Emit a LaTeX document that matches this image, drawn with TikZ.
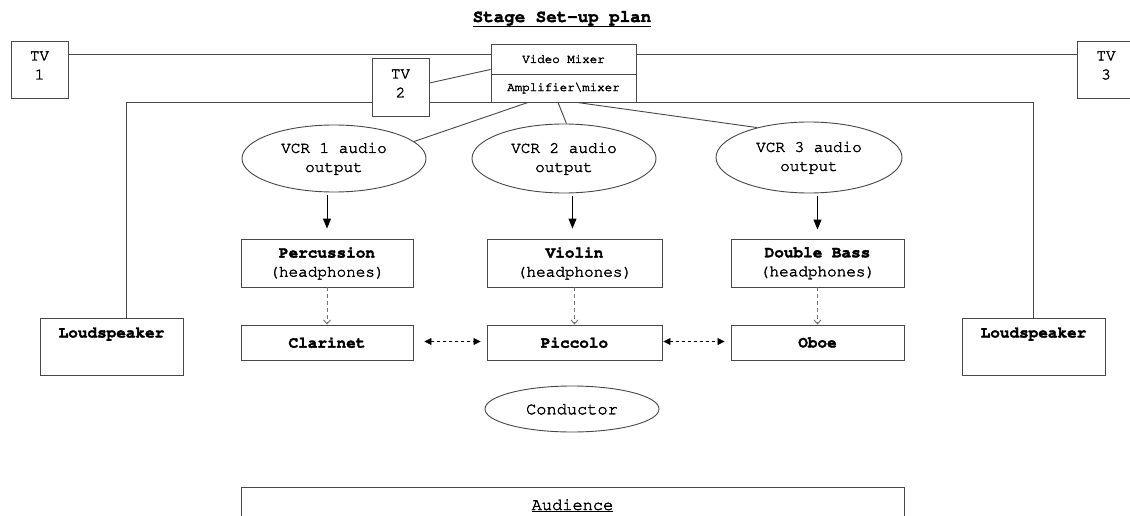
\documentclass[tikz,border=0pt]{standalone}
\usepackage[T1]{fontenc}
\usepackage{courier}
\renewcommand\familydefault{\ttdefault}
\usetikzlibrary{arrows.meta,shapes.geometric}
\newcommand\ink{\special{pdf:literal direct 2 Tr 0.35 w}}
\newcommand\myfs[1]{\fontsize{#1}{19}\selectfont\ink}
\begin{document}
\begin{tikzpicture}[x=1pt,y=-1pt,
  ln/.style={draw=black!72, line width=0.9pt},
  box/.style={draw=black!72, line width=0.9pt, fill=white, rectangle, inner sep=0pt},
  oval/.style={draw=black!72, line width=0.9pt, fill=white, ellipse, inner sep=0pt, align=center, font=\myfs{16}},
  txt/.style={inner sep=0pt, align=center, font=\myfs{16}},
  inst/.style={box, align=center, font=\myfs{16}},
  solidarr/.style={draw=black, line width=0.9pt, -{Triangle[length=10pt,width=8pt]}},
  dasharr/.style={draw=black!55, line width=0.9pt, dash pattern=on 4pt off 3pt, -{Straight Barb[length=4pt,width=7pt]}},
  harr/.style={draw=black, line width=0.8pt, dash pattern=on 3pt off 3pt, {Triangle[length=7pt,width=7pt]}-{Triangle[length=7pt,width=7pt]}}
]
\useasboundingbox (0,0) rectangle (1130,516);
\clip (0,0) rectangle (1130,516);
\fill[white] (0,0) rectangle (1130,516);

% title
\node[anchor=base, inner sep=0pt, font=\bfseries\myfs{17.5}] (title) at (562,22) {\underline{Stage Set-up plan}};

% loudspeakers
\node[box, minimum width=143pt, minimum height=57pt] (ls1) at (111.5,346.5) {};
\node[box, minimum width=143pt, minimum height=57pt] (ls2) at (1033.5,346.5) {};
\node[txt, font=\bfseries\myfs{16}] (ls1t) at ([yshift=-16pt]ls1.north) {Loudspeaker};
\node[txt, font=\bfseries\myfs{16}] (ls2t) at ([yshift=-16pt]ls2.north) {Loudspeaker};

% stage outline
\coordinate (stL) at (126,102);
\coordinate (stR) at (1033,102);
\draw[ln] (ls1.north -| stL) -- (stL) -- (stR) -- (ls2.north -| stR);

% TVs
\node[box, minimum width=57pt, minimum height=57pt] (tv1) at (39.5,69.5) {};
\node[box, minimum width=57pt, minimum height=58pt] (tv2) at (400.5,87) {};
\node[box, minimum width=57pt, minimum height=57pt] (tv3) at (1106,69.5) {};
\node[txt] (tv1t) at ([yshift=4pt]tv1.center) {TV\\1};
\node[txt] (tv2t) at ([yshift=3.5pt]tv2.center) {TV\\2};
\node[txt] (tv3t) at ([yshift=4pt]tv3.center) {TV\\3};

% mixer
\node[box, minimum width=145pt, minimum height=30pt, font=\myfs{12.5}] (vm) at (563.5,59) {Video Mixer};
\node[box, minimum width=145pt, minimum height=28pt, font=\myfs{12.5}] (amp) at (563.5,88) {Amplifier\textbackslash mixer};

% video bus
\coordinate (bus) at (0,54.5);
\draw[ln] (tv1.east |- bus) -- (vm.west |- bus);
\draw[ln] (vm.east |- bus) -- (tv3.west |- bus);
\draw[ln] ([yshift=4pt]tv2.east) -- ([yshift=5pt]vm.south west);

% VCR outputs
\node[oval, minimum width=184pt, minimum height=67pt] (vcr1) at (334,158.5) {VCR 1 audio\\output};
\node[oval, minimum width=184pt, minimum height=69pt] (vcr2) at (564,158.5) {VCR 2 audio\\output};
\node[oval, minimum width=186pt, minimum height=71pt] (vcr3) at (809,157.5) {VCR 3 audio\\output};

\draw[ln] ([xshift=-35.5pt]amp.south) -- (vcr1.12);
\draw[ln] ([xshift=-5.5pt]amp.south) -- (vcr2.86);
\draw[ln] ([xshift=13.5pt]amp.south) -- (vcr3.150);

% instruments
\node[inst, minimum width=172pt, minimum height=48pt] (perc) at (327,263) {\textbf{Percussion}\\(headphones)};
\node[inst, minimum width=175pt, minimum height=48pt] (viol) at (574.5,263) {\textbf{Violin}\\(headphones)};
\node[inst, minimum width=173pt, minimum height=48pt] (dbass) at (817.5,263) {\textbf{Double Bass}\\(headphones)};
\node[inst, minimum width=172pt, minimum height=35pt] (clar) at (327,342.5) {\textbf{Clarinet}};
\node[inst, minimum width=175pt, minimum height=35pt] (picc) at (574.5,342.5) {\textbf{Piccolo}};
\node[inst, minimum width=173pt, minimum height=35pt] (oboe) at (817.5,342.5) {\textbf{Oboe}};

\draw[solidarr] (perc.north |- vcr1.south) ++(0,3) -- ([yshift=10pt]perc.north);
\draw[solidarr] (viol.north |- vcr2.south) ++(-2,3) -- ([xshift=-2pt,yshift=10pt]viol.north);
\draw[solidarr] (dbass.north |- vcr3.south) ++(0,3) -- ([yshift=9pt]dbass.north);

\draw[dasharr] (perc.south) -- (clar.north);
\draw[dasharr] (viol.south) -- (picc.north);
\draw[dasharr] (dbass.south) -- (oboe.north);

\draw[harr] ([xshift=11pt,yshift=1pt]clar.east) -- ([xshift=-6pt,yshift=1pt]picc.west);
\draw[harr] ([xshift=1pt,yshift=1pt]picc.east) -- ([xshift=-6pt,yshift=1pt]oboe.west);

% conductor
\node[oval, minimum width=174pt, minimum height=46pt, font=\myfs{17}] (cond) at (572,409) {Conductor};

% audience
\node[box, minimum width=663pt, minimum height=80pt, anchor=north] (aud) at (572.5,487) {};
\node[anchor=base, inner sep=0pt, font=\myfs{17}] (audt) at (572.5,510) {\underline{Audience}};
\end{tikzpicture}
\end{document}
